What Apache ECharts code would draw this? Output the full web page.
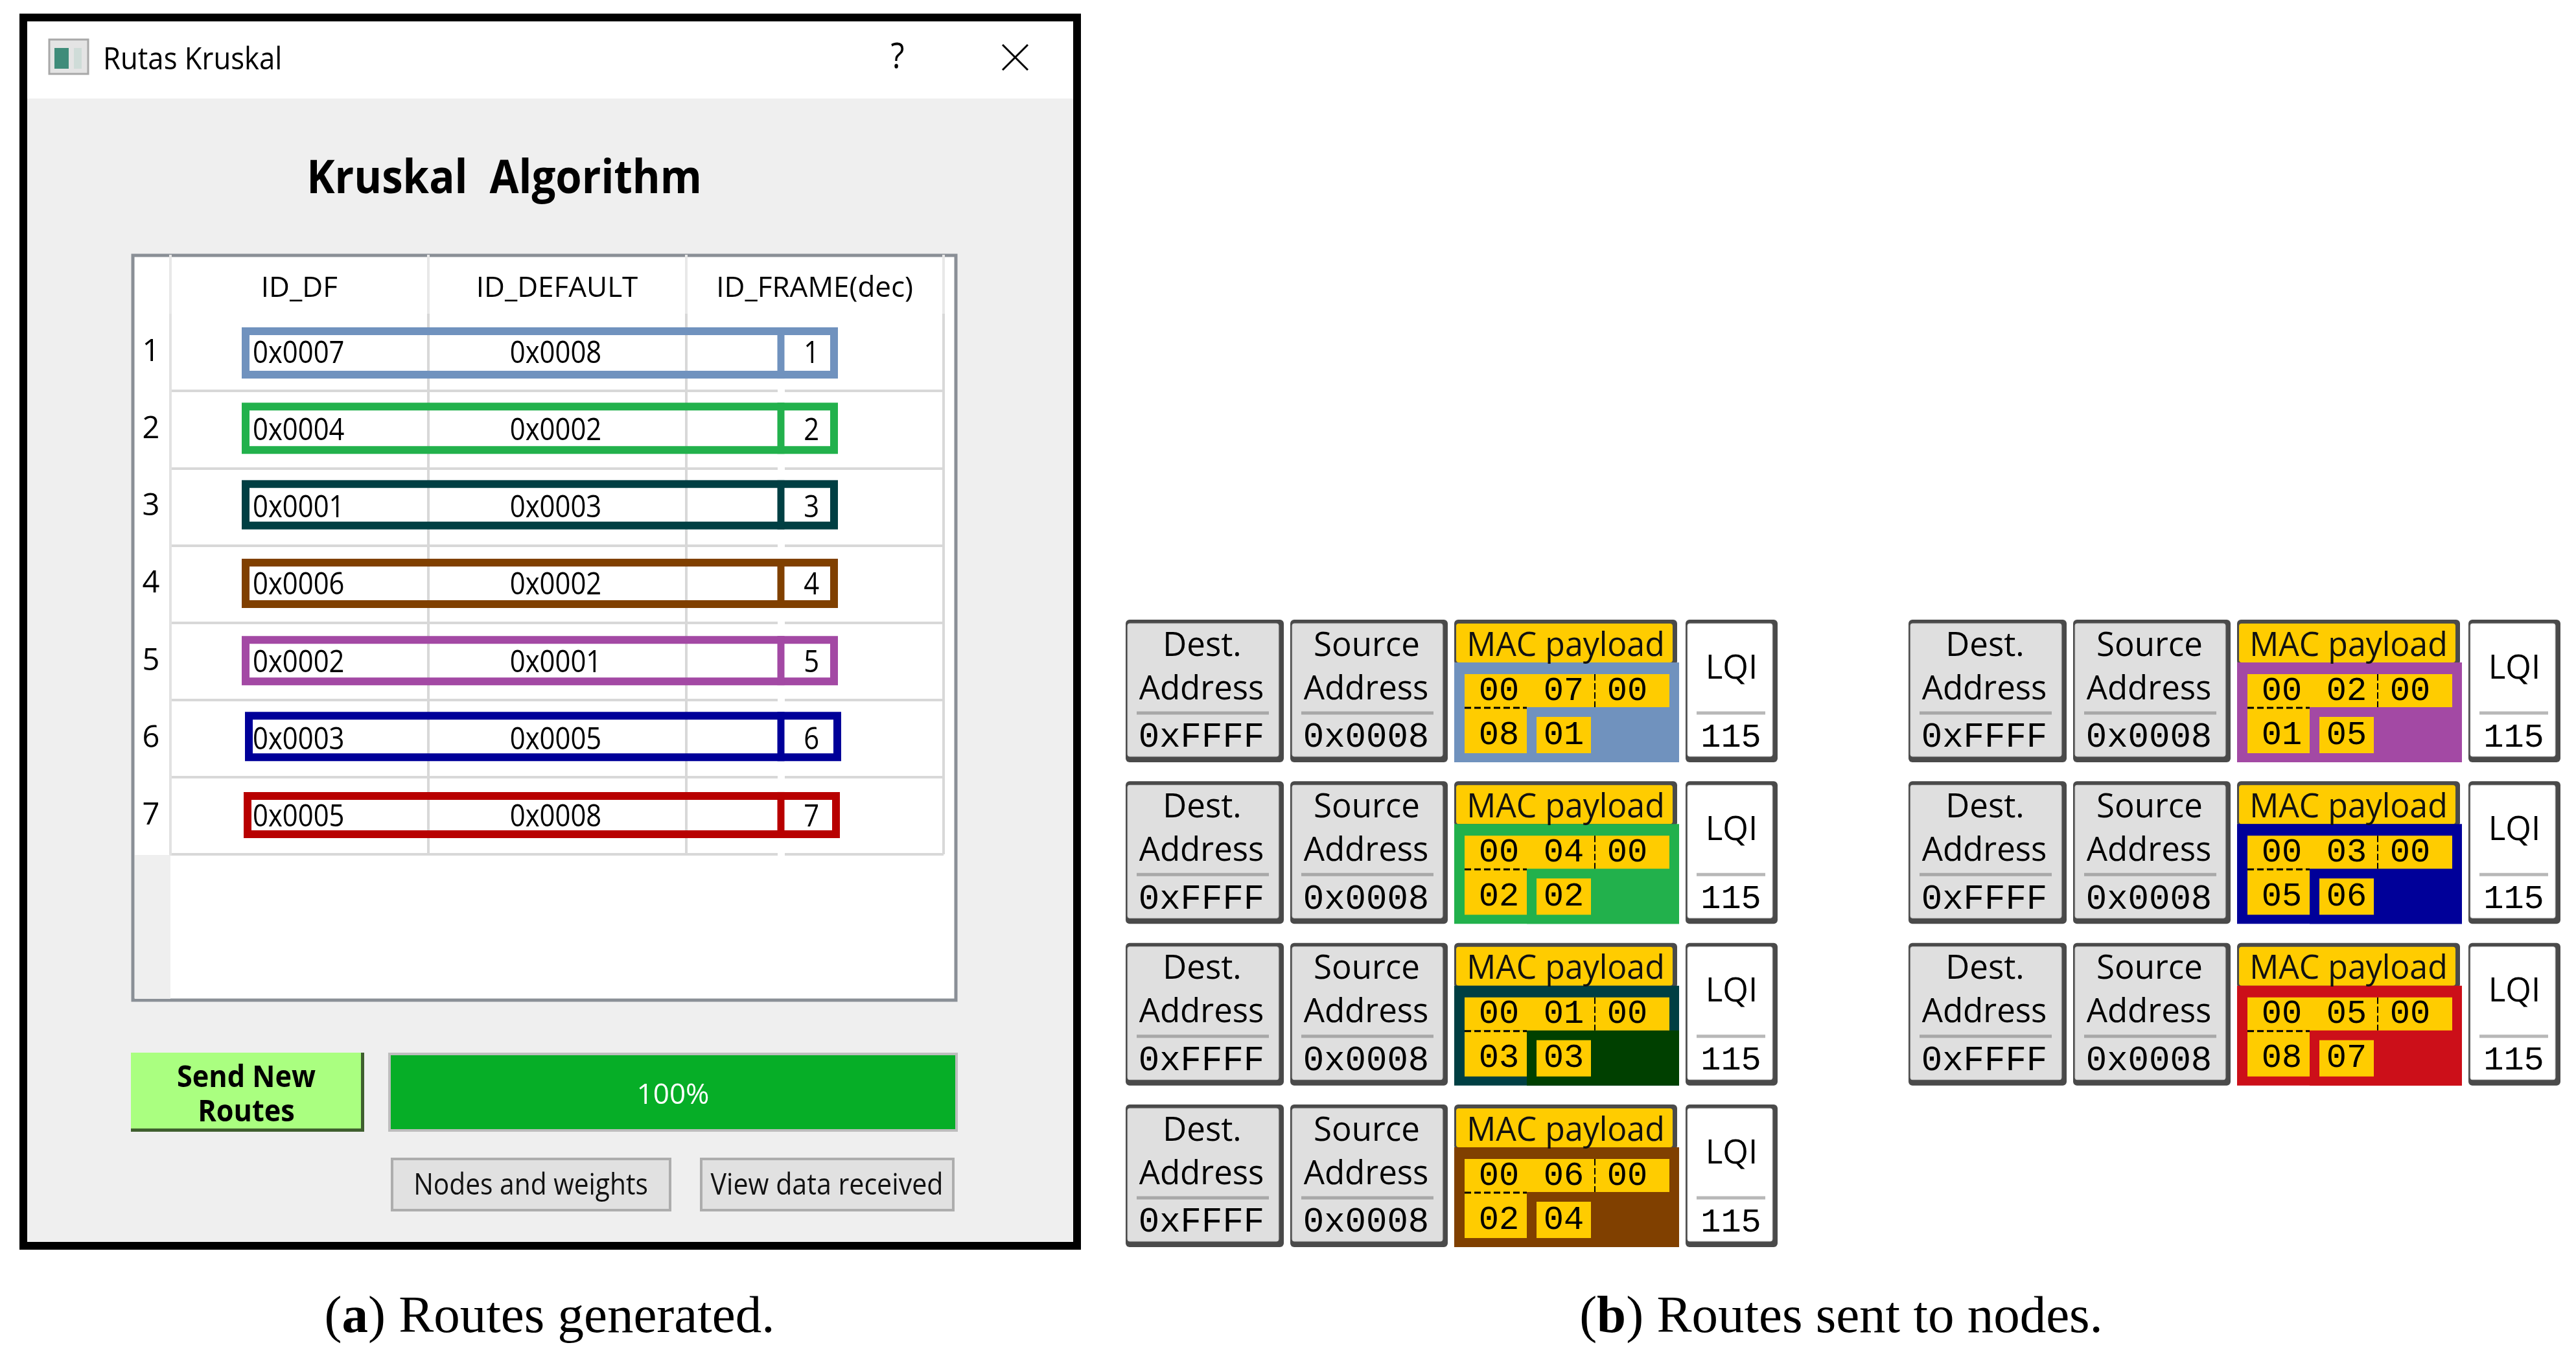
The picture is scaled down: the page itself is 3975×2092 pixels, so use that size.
<!DOCTYPE html>
<html lang="en">
<head>
<meta charset="UTF-8">
<title>Rutas Kruskal</title>
<script src="https://cdn.jsdelivr.net/npm/echarts@6/dist/echarts.min.js"></script>
<style>
    html, body { margin: 0; padding: 0; background: #fff; }
    #container { width: 3975px; height: 2092px; }
</style>
</head>
<body>
<div id="container"></div>
<script type="text/javascript">
    // table of panel (a)
    var columnNames = ['ID_DF', 'ID_DEFAULT', 'ID_FRAME(dec)'];
    var rowNumbers = ['1', '2', '3', '4', '5', '6', '7'];
    var idDf = ['0x0007', '0x0004', '0x0001', '0x0006', '0x0002', '0x0003', '0x0005'];
    var idDefault = ['0x0008', '0x0002', '0x0003', '0x0002', '0x0001', '0x0005', '0x0008'];
    var idFrame = ['1', '2', '3', '4', '5', '6', '7'];
    var progress = [100];

    // frames of panel (b)
    var frameColumn = [0, 0, 0, 0, 1, 1, 1];
    var frameRow = [0, 1, 2, 3, 0, 1, 2];
    var destAddress = ['0xFFFF', '0xFFFF', '0xFFFF', '0xFFFF', '0xFFFF', '0xFFFF', '0xFFFF'];
    var sourceAddress = ['0x0008', '0x0008', '0x0008', '0x0008', '0x0008', '0x0008', '0x0008'];
    var macFirst = ['00', '00', '00', '00', '00', '00', '00'];
    var macSecond = ['07', '04', '01', '06', '02', '03', '05'];
    var macThird = ['00', '00', '00', '00', '00', '00', '00'];
    var macFourth = ['08', '02', '03', '02', '01', '05', '08'];
    var macFifth = ['01', '02', '03', '04', '05', '06', '07'];
    var lqi = ['115', '115', '115', '115', '115', '115', '115'];

    // colours, one per route
    var rowColors = ['#7092be', '#22b14c', '#003f43', '#804000', '#a349a4', '#000099', '#b80000'];
    var frameColors = ['#7092be', '#22b14c', '#003f43', '#804000', '#a349a4', '#000099', '#cc0f19'];
    var frameLowColors = ['#7092be', '#22b14c', '#004000', '#804000', '#a349a4', '#000099', '#cc0f19'];

    // the boxes were drawn by hand on the screenshot, so they are not quite on the rows
    var rowBoxShift = [0, 0, 0, 0, 0, 5, 3];
    var rowBoxNudge = [1, -2, -3, -1, -1, -3, -1];
    var rowBoxHeight = [79, 79, 76, 76, 76, 76, 71];

    var UI_FONT = '"Open Sans"';
    var MONO_FONT = '"Liberation Mono"';
    var SERIF_FONT = '"Liberation Serif"';
    var TEXT_DROP = 4;

    function label(text, x, y, size, opts) {
        opts = opts || {};
        return {
            type: 'text',
            x: x,
            y: y + TEXT_DROP,
            scaleX: opts.sx || 1,
            z: 20,
            silent: true,
            style: {
                text: text,
                x: 0,
                y: 0,
                fill: opts.color || '#000',
                fontSize: size,
                fontFamily: opts.font || UI_FONT,
                fontWeight: opts.weight || 'normal',
                align: opts.align || 'center',
                verticalAlign: 'middle'
            }
        };
    }

    function box(x, y, w, h, fill, opts) {
        opts = opts || {};
        return {
            type: 'rect',
            z: opts.z === undefined ? -5 : opts.z,
            silent: true,
            shape: { x: x, y: y, width: w, height: h, r: opts.r || 0 },
            style: { fill: fill, stroke: opts.stroke || null, lineWidth: opts.lw || 0 }
        };
    }

    function line(x1, y1, x2, y2, color, width, dash) {
        return {
            type: 'line',
            z: 20,
            silent: true,
            shape: { x1: x1, y1: y1, x2: x2, y2: y2 },
            style: { stroke: color, lineWidth: width, lineDash: dash || null }
        };
    }

    function caption(text, x) {
        return {
            type: 'text', z: 20, silent: true,
            style: {
                x: x, y: 2034, align: 'center', verticalAlign: 'middle',
                text: text,
                rich: {
                    b: { fontSize: 81, fontFamily: SERIF_FONT, fill: '#000' },
                    bb: { fontSize: 81, fontFamily: SERIF_FONT, fontWeight: 'bold', fill: '#000' }
                }
            }
        };
    }

    // window around the table, buttons and captions
    var chrome = [
        box(36, 27, 1626, 1895, '#efefef', { stroke: '#000', lw: 12, z: -9 }),
        box(42, 33, 1614, 119, '#ffffff', { z: -8 }),
        box(76, 61, 60, 53, '#e4e4e4', { stroke: '#a8a8a8', lw: 3, z: -7 }),
        box(84, 74, 22, 32, '#3f8c7a', { z: -6 }),
        box(114, 74, 12, 32, '#cfdcd8', { z: -6 }),
        label('Rutas Kruskal', 159, 90, 47, { align: 'left', sx: 0.93 }),
        label('?', 1385, 86, 54, { sx: 0.9 }),
        line(1547, 69, 1586, 108, '#000', 3),
        line(1586, 69, 1547, 108, '#000', 3),
        label('Kruskal  Algorithm', 778, 274, 71, { weight: 'bold', sx: 0.92 }),

        // table frame, empty part below the rows is grey on the left
        box(205, 394, 1270, 1149, '#ffffff', { stroke: '#8a8f96', lw: 5, z: -7 }),
        box(208, 1319, 55, 222, '#efefef', { z: -6 }),
        line(263, 396, 263, 484, '#e8e8e8', 4),
        line(1456, 396, 1456, 484, '#e8e8e8', 4),

        // send button
        box(202, 1624, 360, 122, '#3f5f2f', { z: -6 }),
        box(202, 1624, 355, 117, '#aaff80', { z: -5 }),
        label('Send New', 380, 1660, 46, { weight: 'bold', sx: 0.94 }),
        label('Routes', 380, 1713, 46, { weight: 'bold', sx: 0.94 }),

        // progress bar border, the bar itself is a series
        box(601, 1626, 875, 118, '#ffffff', { stroke: '#bdbdbd', lw: 4, z: -6 }),

        box(605, 1788, 429, 79, '#e1e1e1', { stroke: '#adadad', lw: 4 }),
        label('Nodes and weights', 819, 1826, 46, { sx: 0.885, color: '#111' }),
        box(1082, 1788, 389, 79, '#e1e1e1', { stroke: '#adadad', lw: 4 }),
        label('View data received', 1276, 1826, 46, { sx: 0.895, color: '#111' }),

        caption('{b|(}{bb|a}{b|) Routes generated.}', 848),
        caption('{b|(}{bb|b}{b|) Routes sent to nodes.}', 3096 - 255)
    ];

    // coloured box on each table row, with its three values
    function renderRow(params, api) {
        var i = params.dataIndex;
        var c0 = api.coord([0, i]);
        var colW = api.size([1, 0])[0];
        var gridLeft = c0[0] - colW / 2;
        var cy = c0[1] + rowBoxNudge[i];
        var halfH = rowBoxHeight[i] / 2;
        var shift = rowBoxShift[i];
        var left = gridLeft + 110 + shift;
        var right = gridLeft + 1030 + shift;
        var children = [
            // separators stop short at the frame column
            box(gridLeft + 937, c0[1] + 57, 11, 6, '#ffffff', { z: 0 }),
            {
                type: 'rect',
                shape: { x: left + 6, y: cy - halfH + 6, width: right - left - 12, height: rowBoxHeight[i] - 12 },
                style: { fill: null, stroke: rowColors[i], lineWidth: 12 }
            },
            line(gridLeft + 942, cy - halfH, gridLeft + 942, cy + halfH, rowColors[i], 11),
            label(idDf[i], gridLeft + 127, c0[1] - 1, 47, { align: 'left', sx: 0.89 }),
            label(idDefault[i], api.coord([1, i])[0] - 2, c0[1] - 1, 47, { sx: 0.89 }),
            label(idFrame[i], api.coord([2, i])[0] - 5, c0[1] - 1, 47, { sx: 0.89 })
        ];
        return { type: 'group', children: children };
    }

    // raised grey/white key
    function keyBox(x, y, w, h, fill) {
        return [
            { type: 'rect', shape: { x: x, y: y, width: w, height: h, r: 6 }, style: { fill: '#4a4a4a' } },
            { type: 'rect', shape: { x: x + 3, y: y + 6, width: w - 11, height: h - 15, r: 3 }, style: { fill: fill, stroke: '#c8c8c8', lineWidth: 1 } }
        ];
    }

    function renderFrame(params, api) {
        var i = params.dataIndex;
        var pos = api.coord([frameColumn[i], frameRow[i]]);
        var x = pos[0], y = pos[1];
        var h = 220;
        var sepY = y + 144;
        var monoOpts = { font: MONO_FONT };
        var children = [];

        // destination
        children = children.concat(keyBox(x, y, 244, h, '#dfdfdf'));
        children.push(
            label('Dest.', x + 118, y + 37, 51),
            label('Address', x + 117, y + 104, 51),
            line(x + 17, sepY, x + 221, sepY, '#a8a8a8', 5),
            label(destAddress[i], x + 117, y + 178, 54, monoOpts)
        );

        // source
        var sx = x + 254;
        children = children.concat(keyBox(sx, y, 243, h, '#dfdfdf'));
        children.push(
            label('Source', sx + 118, y + 37, 51),
            label('Address', sx + 117, y + 104, 51),
            line(sx + 17, sepY, sx + 221, sepY, '#a8a8a8', 5),
            label(sourceAddress[i], sx + 117, y + 178, 54, monoOpts)
        );

        // payload
        var mx = x + 507;
        var gold = '#ffcc00';
        children.push(
            { type: 'rect', shape: { x: mx, y: y, width: 344, height: 70, r: 6 }, style: { fill: '#4a4a4a' } },
            { type: 'rect', shape: { x: mx + 3, y: y + 6, width: 334, height: 60, r: 4 }, style: { fill: gold } },
            { type: 'rect', shape: { x: mx, y: y + 66, width: 347, height: h - 66 }, style: { fill: frameColors[i] } },
            { type: 'rect', shape: { x: mx + 112, y: y + 135, width: 235, height: h - 135 }, style: { fill: frameLowColors[i] } },
            { type: 'rect', shape: { x: mx + 16, y: y + 84, width: 316, height: 51 }, style: { fill: gold } },
            { type: 'rect', shape: { x: mx + 16, y: y + 135, width: 96, height: 71 }, style: { fill: gold } },
            { type: 'rect', shape: { x: mx + 127, y: y + 150, width: 84, height: 56 }, style: { fill: gold } },
            line(mx + 16, y + 136, mx + 112, y + 136, '#000', 3, [10, 5]),
            line(mx + 217, y + 84, mx + 217, y + 135, '#000', 2, [10, 4]),
            label('MAC payload', mx + 172, y + 37, 51, { sx: 0.98, color: '#111' }),
            label(macFirst[i], mx + 69, y + 106, 52, monoOpts),
            label(macSecond[i], mx + 169, y + 106, 52, monoOpts),
            label(macThird[i], mx + 267, y + 106, 52, monoOpts),
            label(macFourth[i], mx + 69, y + 174, 52, monoOpts),
            label(macFifth[i], mx + 169, y + 174, 52, monoOpts)
        );

        // lqi
        var lx = x + 864;
        children = children.concat(keyBox(lx, y, 142, h, '#ffffff'));
        children.push(
            label('LQI', lx + 71, y + 72, 51),
            line(lx + 17, sepY, lx + 123, sepY, '#b8b8b8', 5),
            label(lqi[i], lx + 70, y + 178, 52, monoOpts)
        );
        return { type: 'group', children: children };
    }

    var dom = document.getElementById('container');
    var myChart = echarts.init(dom, null, { renderer: 'canvas' });

    var option = {
        animation: false,
        backgroundColor: '#ffffff',
        graphic: { elements: chrome },
        grid: [
            { left: 263, top: 484, width: 1193, height: 834 },
            { left: 1737, top: 956, width: 1208, height: 748 },
            { left: 603, top: 1628, width: 871, height: 114 }
        ],
        xAxis: [
            {
                gridIndex: 0,
                type: 'category',
                position: 'top',
                data: columnNames,
                axisLine: { show: false },
                axisTick: { show: true, inside: false, length: 91, lineStyle: { color: '#e8e8e8', width: 4 } },
                axisLabel: {
                    show: true, interval: 0, margin: 39, verticalAlign: 'middle',
                    fontFamily: UI_FONT, fontSize: 44, color: '#000'
                },
                splitLine: { show: true, interval: 0, lineStyle: { color: '#d8d8d8', width: 4 } }
            },
            { gridIndex: 1, type: 'value', min: 0, max: 1, show: false },
            { gridIndex: 2, type: 'value', min: 0, max: 100, show: false }
        ],
        yAxis: [
            {
                gridIndex: 0,
                type: 'category',
                inverse: true,
                data: rowNumbers,
                axisLine: { show: true, lineStyle: { color: '#e2e2e2', width: 4 } },
                axisTick: { show: false },
                axisLabel: {
                    show: true, interval: 0, margin: 30, align: 'center',
                    padding: [14, 0, 0, 0],
                    fontFamily: UI_FONT, fontSize: 47, color: '#000'
                },
                splitLine: { show: true, interval: 0, showMinLine: false, lineStyle: { color: '#d8d8d8', width: 4 } }
            },
            { gridIndex: 1, type: 'value', min: 0, max: 3, inverse: true, show: false },
            { gridIndex: 2, type: 'category', data: ['progress'], show: false }
        ],
        series: [
            {
                type: 'custom',
                name: 'routes',
                xAxisIndex: 0,
                yAxisIndex: 0,
                coordinateSystem: 'cartesian2d',
                renderItem: renderRow,
                data: idDf.map(function (v, i) { return [0, i]; }),
                z: 5,
                silent: true
            },
            {
                type: 'custom',
                name: 'frames',
                xAxisIndex: 1,
                yAxisIndex: 1,
                coordinateSystem: 'cartesian2d',
                renderItem: renderFrame,
                data: frameColumn.map(function (c, i) { return [c, frameRow[i]]; }),
                z: 5,
                silent: true,
                clip: false
            },
            {
                type: 'bar',
                name: 'progress',
                xAxisIndex: 2,
                yAxisIndex: 2,
                data: progress,
                barWidth: '100%',
                itemStyle: { color: '#06ae27' },
                label: {
                    show: true, position: 'inside', formatter: '{c}%', offset: [0, 5],
                    fontFamily: UI_FONT, fontSize: 44, color: '#ffffff'
                },
                silent: true
            }
        ]
    };
    myChart.setOption(option);
    window.addEventListener('resize', myChart.resize);
</script>
</body>
</html>
